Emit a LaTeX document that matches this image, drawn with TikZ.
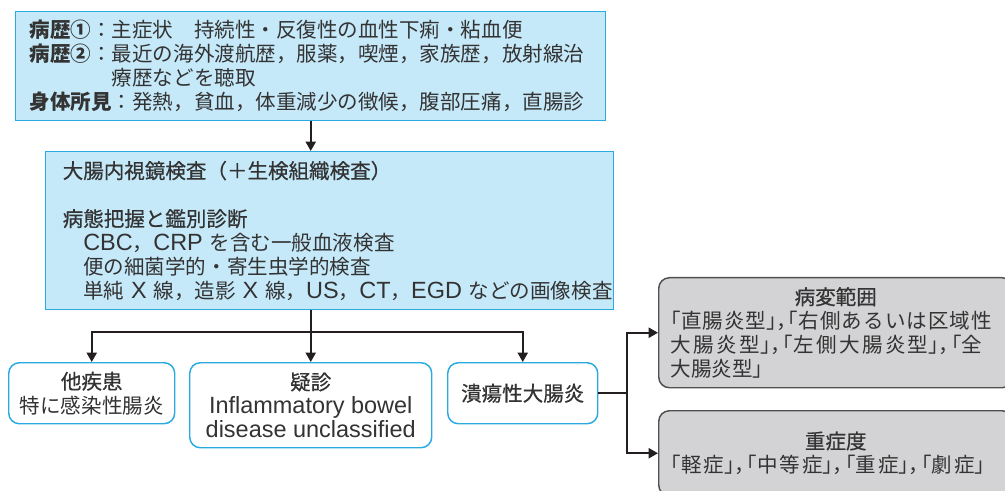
\documentclass[tikz,border=0pt]{standalone}
\usepackage{fontspec}
\setmainfont{Noto Sans CJK JP}
\newfontfamily\grayfont[RawFeature=+halt]{Noto Sans CJK JP}
\newfontfamily\medfont[FakeBold=0.6]{Noto Sans CJK JP}
\newfontfamily\latfont{Liberation Sans}
\newcommand{\lat}[1]{{\latfont\fontsize{17.6pt}{18pt}\selectfont #1}}
\usetikzlibrary{arrows.meta}
\definecolor{txt}{HTML}{333333}
\definecolor{bluefill}{HTML}{C6E9F9}
\definecolor{blueline}{HTML}{29ABE2}
\definecolor{grayfill}{HTML}{D3D3D5}
\definecolor{grayline}{HTML}{505050}
\definecolor{conncol}{HTML}{231F20}
\begin{document}
\begin{tikzpicture}[x=0.75pt,y=-0.75pt,
  txtfont/.style={font=\fontsize{15.4pt}{18pt}\selectfont, text=txt},
  bluebox/.style={txtfont, draw=blueline, fill=bluefill, line width=1.1pt, anchor=north west, align=left, inner ysep=0pt},
  roundbox/.style={txtfont, draw=blueline, fill=white, line width=1.1pt, rounded corners=8pt, anchor=north west, align=center, inner sep=0pt},
  graybox/.style={txtfont, draw=grayline, fill=grayfill, line width=1.1pt, rounded corners=8pt, anchor=north west, inner ysep=0pt, inner xsep=9pt, text width=247.5pt, minimum width=265.5pt},
  conn/.style={draw=conncol, line width=1.5pt},
  arr/.style={conn, -{Triangle[length=7pt,width=7.5pt]}},
]
\useasboundingbox (0,0) rectangle (1005,491);
\clip (0,0) rectangle (1005,491);

\node[bluebox, inner xsep=10.5pt, text width=421.5pt, minimum width=442.5pt, minimum height=81.75pt] (n1) at (15,11) {%
\textbf{病歴①}：主症状　持続性・反復性の血性下痢・粘血便\\
\textbf{病歴②}：最近の海外渡航歴，服薬，喫煙，家族歴，放射線治\\
\phantom{\textbf{病歴②}：}療歴などを聴取\\
\textbf{身体所見}：発熱，貧血，体重減少の徴候，腹部圧痛，直腸診};

\node[bluebox, inner xsep=12.75pt, text width=400.5pt, minimum width=426pt, minimum height=118.5pt] (n2) at (45,151) {%
{\medfont 大腸内視鏡検査（＋生検組織検査）}\\[18pt]
{\medfont 病態把握と鑑別診断}\\
\mbox{　\lat{CBC}，\lat{CRP} を含む一般血液検査}\\
\mbox{　便の細菌学的・寄生虫学的検査}\\
\mbox{　単純 \lat{X} 線，造影 \lat{X} 線，\lat{US}，\lat{CT}，\lat{EGD} などの画像検査}};

\node[roundbox, minimum width=124.5pt, minimum height=45.75pt] (a) at (8,362) {{\medfont 他疾患}\\特に感染性腸炎};
\node[roundbox, minimum width=181.5pt, minimum height=63.75pt] (b) at (189,362) {{\medfont 疑診}\\\lat{Inflammatory bowel}\\\lat{disease unclassified}};
\node[roundbox, minimum width=112.5pt, minimum height=45.75pt] (c) at (447,362) {{\medfont 潰瘍性大腸炎}};

\node[graybox, minimum height=82.5pt] (d) at (658,277) {%
{\centering\medfont 病変範囲\par}
\XeTeXlinebreaklocale "ja"\XeTeXlinebreakskip=0pt plus 4pt\tolerance=9999
\grayfont 「直腸炎型」，「右側あるいは区域性\linebreak
大腸炎型」，「左側大腸炎型」，「全\linebreak
大腸炎型」\par};

\node[graybox, minimum height=63.75pt] (e) at (658,410) {%
{\centering\medfont 重症度\par}
\XeTeXlinebreaklocale "ja"\XeTeXlinebreakskip=0pt plus 4pt\tolerance=9999
\parfillskip=0pt
\grayfont 「軽症」，「中等症」，「重症」，「劇症」\par};

\draw[arr] (n1.south) -- (n1.south |- n2.north);
\coordinate (j) at (n1.south |- 0,332);
\draw[conn] (n1.south |- n2.south) -- (j);
\draw[arr] (j) -| (a.north);
\draw[arr] (j) -- (b.north);
\draw[arr] (j) -| (c.north);
\coordinate (k) at (627,0 |- c.east);
\draw[conn] (c.east) -- (k);
\draw[arr] (k) |- (d.west);
\draw[arr] (k) |- (e.west);
\end{tikzpicture}
\end{document}
